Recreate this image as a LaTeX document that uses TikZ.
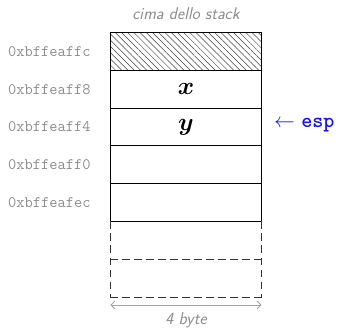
\documentclass[tikz,border=0pt]{standalone}
\usepackage{bm}
\usetikzlibrary{patterns.meta,arrows.meta}
\definecolor{addrgray}{RGB}{140,140,140}
\definecolor{espblue}{RGB}{20,20,240}
\tikzset{
  cell/.style={draw=black, line width=0.8pt},
  dcell/.style={draw=black!80, line width=0.8pt, dash pattern=on 7.5pt off 4.5pt},
  addr/.style={anchor=west, inner sep=0pt, text=addrgray, font=\fontsize{16}{19}\selectfont\ttfamily},
  lbl/.style={text=addrgray, font=\fontsize{17}{20}\selectfont\sffamily\itshape},
  var/.style={font=\fontsize{24}{28}\selectfont},
}
\begin{document}
\begin{tikzpicture}[x=1pt,y=-1pt]
\useasboundingbox (0,0) rectangle (342,328);
% rows
\path[cell, pattern={Lines[angle=-45,distance=4.4pt,line width=0.5pt]}, pattern color=black!75] (110.3,32.5) rectangle (261.7,70.3);
\path[cell] (110.3,32.5) rectangle (261.7,70.3);
\path[cell] (110.3,70.3) rectangle (261.7,108.1);
\path[cell] (110.3,108.1) rectangle (261.7,145.9);
\path[cell] (110.3,145.9) rectangle (261.7,183.7);
\path[cell] (110.3,183.7) rectangle (261.7,221.5);
\draw[dcell] (110.3,221.5) -- (110.3,297.1);
\draw[dcell] (261.7,221.5) -- (261.7,297.1);
\draw[dcell] (110.3,259.3) -- (261.7,259.3);
\draw[dcell] (110.3,297.1) -- (261.7,297.1);
% values
\node[var] (vx) at (186,89.2) {$\bm{x}$};
\node[var] (vy) at (186,127) {$\bm{y}$};
% addresses
\node[addr] (a1) at (8,51.4) {0xbffeaffc};
\node[addr] (a2) at (8,89.2) {0xbffeaff8};
\node[addr] (a3) at (8,127) {0xbffeaff4};
\node[addr] (a4) at (8,164.8) {0xbffeaff0};
\node[addr] (a5) at (8,202.6) {0xbffeafec};
% esp
\node[anchor=west, inner sep=0pt, text=espblue, font=\fontsize{21}{25}\selectfont] (esp) at (274,125.5) {$\leftarrow$ \texttt{\bfseries esp}};
% top label
\node[lbl] (top) at (186,14) {cima dello stack};
% width
\coordinate (wl) at (110.3,305);
\coordinate (wr) at (261.7,305);
\draw[addrgray!80, line width=0.9pt, {Straight Barb[length=4pt,width=8pt]}-{Straight Barb[length=4pt,width=8pt]}] (wl) -- (wr);
\node[lbl] (w) at (186,320) {4 byte};
\end{tikzpicture}
\end{document}
